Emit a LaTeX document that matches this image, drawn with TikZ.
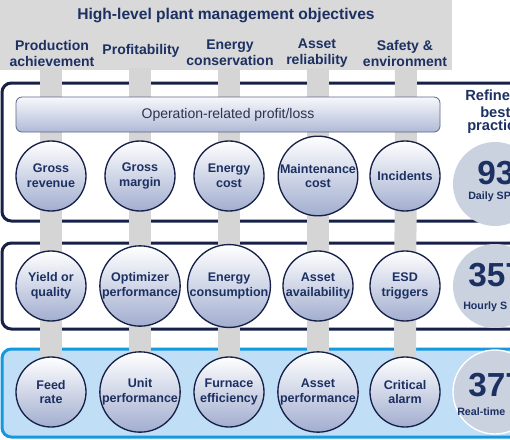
\documentclass[tikz,border=0pt]{standalone}
\usepackage{fontspec}
\setmainfont{Liberation Sans}
\usetikzlibrary{positioning,backgrounds}
\definecolor{kpiNavy}{RGB}{28,48,98}
\definecolor{kpiEdge}{RGB}{22,32,72}
\definecolor{kpiHead}{RGB}{217,217,217}
\definecolor{kpiBar}{RGB}{213,213,213}
\definecolor{kpiSky}{RGB}{192,222,246}
\definecolor{kpiCyan}{RGB}{22,152,222}
\definecolor{kpiBall}{RGB}{162,174,208}
\definecolor{kpiDisc}{RGB}{202,210,224}
\definecolor{kpiInk}{RGB}{45,52,78}
\definecolor{kpiRim}{RGB}{92,102,132}
\tikzset{
  khead/.style={font=\bfseries\fontsize{10.5}{12}\selectfont, text=kpiNavy,
    align=center, inner sep=0pt},
  kball/.style={circle, draw=kpiEdge, line width=1pt, minimum size=52.5pt,
    inner sep=0pt, top color=white, bottom color=kpiBall,
    font=\bfseries\fontsize{9.4}{11.2}\selectfont, text=kpiNavy,
    align=center},
  kdisc/.style={circle, fill=kpiDisc, minimum size=63pt, inner sep=0pt},
  ktier/.style={draw=kpiEdge, line width=2.25pt, rounded corners=7pt,
    fill=white},
  kbar/.style={line width=16.5pt, draw=kpiBar}
}
\begin{document}
\begin{tikzpicture}[x=.75pt, y=-.75pt,
  opbar/.style={rounded corners=4.5pt, draw=kpiRim, line width=.6pt,
    top color=white!92!kpiBall, bottom color=kpiBall!85,
    minimum width=318pt, minimum height=26.25pt,
    font=\fontsize{10.5}{12}\selectfont, text=kpiInk},
  big/.style={font=\bfseries\fontsize{25}{25}\selectfont, text=kpiNavy,
    anchor=west, inner sep=0pt},
  tag/.style={font=\bfseries\fontsize{8}{9}\selectfont, text=kpiNavy,
    anchor=west, inner sep=0pt},
  side/.style={font=\bfseries\fontsize{11}{12}\selectfont, text=kpiNavy,
    anchor=west, inner sep=0pt}
]
\path[use as bounding box] (0,0) rectangle (510,439);
\clip (0,0) rectangle (510,439);

\node[khead, font=\bfseries\fontsize{11.7}{13}\selectfont] (title) at (226,16)
  {High-level plant management objectives};
\node[khead] (h1) at (52,53) {Production\\achievement};
\node[khead] (h2) at (141,51) {Profitability};
\node[khead] (h3) at (230,53) {Energy\\conservation};
\node[khead] (h4) at (317,53) {Asset\\reliability};
\node[khead] (h5) at (405,53) {Safety \&\\environment};

\node[opbar] (oprl) at (228,114.5) {Operation-related profit/loss};

% daily tier
\node[kball] (gross) at (51,176) {Gross\\revenue};
\node[kball] (margin) at (140,176) {Gross\\margin};
\node[kball] (ecost) at (229,176) {Energy\\cost};
\node[kball] (maint) at (318,176) {Maintenance\\cost};
\node[kball] (incid) at (405,176) {Incidents};

% hourly tier
\node[kball] (yieldq) at (51,286) {Yield or\\quality};
\node[kball] (optim) at (140,286) {Optimizer\\performance};
\node[kball] (econs) at (229,286) {Energy\\consumption};
\node[kball] (avail) at (318,286) {Asset\\availability};
\node[kball] (esd) at (405,286) {ESD\\triggers};

% real-time tier
\node[kball] (feed) at (51,392) {Feed\\rate};
\node[kball] (unit) at (140,392) {Unit\\performance};
\node[kball] (furn) at (229,392) {Furnace\\efficiency};
\node[kball] (assetp) at (318,392) {Asset\\performance};
\node[kball] (crit) at (405,392) {Critical\\alarm};

% right-hand counts
\node[side] (rf1) at (465,95) {Refine};
\node[side] (rf2) at (480,112) {best};
\node[side] (rf3) at (467,127) {practic};
\node[kdisc] (d1) at (495,184) {};
\node[kdisc] (d2) at (495,286) {};
\node[kdisc, draw=white, line width=1pt] (d3) at (495,392) {};
\node[big] (n1) at (477,173) {93};
\node[tag] (t1) at (468,197) {Daily SP};
\node[big] (n2) at (468,275) {357};
\node[tag] (t2) at (463,307) {Hourly S};
\node[big] (n3) at (468,385) {377};
\node[tag] (t3) at (457,412) {Real-time};

\begin{scope}[on background layer]
  \fill[kpiHead] (0,0) rectangle (452,70);
  \draw[ktier] (2,83) rectangle (560,221);
  \draw[ktier] (2,243) rectangle (560,329);
  \draw[ktier, draw=kpiCyan, fill=kpiSky] (2,349) rectangle (560,437);
  \coordinate (b1) at (51,68);
  \coordinate (b2) at (140,68);
  \coordinate (b3) at (229,68);
  \coordinate (b4) at (318,68);
  \coordinate (b5) at (406,68);
  \draw[kbar] (b1) -- (feed.center);
  \draw[kbar] (b2) -- (unit.center);
  \draw[kbar] (b3) -- (furn.center);
  \draw[kbar] (b4) -- (assetp.center);
  \draw[kbar] (b5) -- (crit.center);
\end{scope}
\end{tikzpicture}
\end{document}
